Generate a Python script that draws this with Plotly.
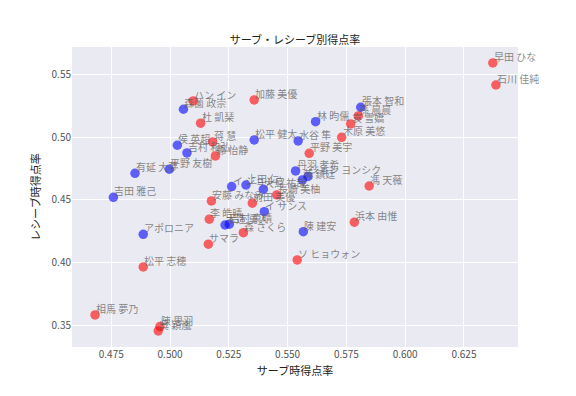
import plotly.graph_objects as go

# Men (blue)
men_names = ["張本 智和", "林 昀儒", "水谷 隼", "松平 健太", "森薗 政崇", "侯 英超", "吉村 和弘",
             "有延 大夢", "平野 友樹", "吉田 雅己", "アポロニア", "丹羽 孝希", "ジョン ヨンシク", "黄 鎮廷",
             "イ ジョンウ", "上田 仁", "大島 祐哉", "イ サンス", "木造 勇人", "吉村 真晴", "陳 建安"]
men_serve = [0.5811, 0.5619, 0.5545, 0.5358, 0.5057, 0.5031, 0.5072,
             0.4851, 0.4997, 0.4759, 0.4886, 0.5534, 0.5587, 0.5563,
             0.5262, 0.5323, 0.5397, 0.5401, 0.5234, 0.5252, 0.5567]
men_receive = [0.5237, 0.5122, 0.4969, 0.4977, 0.5221, 0.4935, 0.4874,
               0.4712, 0.4744, 0.4521, 0.4227, 0.4731, 0.4687, 0.4659,
               0.4606, 0.4619, 0.4585, 0.4407, 0.4301, 0.4307, 0.4248]

# Women (red)
women_names = ["早田 ひな", "石川 佳純", "孫 晨晨", "袁 雪嬌", "木原 美悠", "平野 美宇", "加藤 美優",
               "ハン イン", "杜 凱琹", "蒋 慧", "鄭 怡静", "馮 天薇", "浜本 由惟", "長崎 美柚",
               "前田 美優", "安藤 みなみ", "李 皓晴", "森 さくら", "サマラ", "ソ ヒョウォン",
               "松平 志穂", "相馬 夢乃", "陳 思羽", "呉 穎嵐"]
women_serve = [0.6373, 0.6386, 0.5801, 0.5768, 0.5730, 0.5592, 0.5358,
               0.5099, 0.5130, 0.5181, 0.5193, 0.5847, 0.5784, 0.5454,
               0.5350, 0.5176, 0.5167, 0.5312, 0.5163, 0.5541,
               0.4886, 0.4681, 0.4957, 0.4950]
women_receive = [0.5589, 0.5414, 0.5168, 0.5104, 0.4998, 0.4871, 0.5295,
                 0.5287, 0.5110, 0.4961, 0.4850, 0.4611, 0.4323, 0.4540,
                 0.4474, 0.4492, 0.4347, 0.4240, 0.4148, 0.4023,
                 0.3967, 0.3586, 0.3493, 0.3459]

FONT = "Noto Sans CJK JP"

fig = go.Figure()
fig.add_trace(go.Scatter(x=women_serve, y=women_receive, mode="markers",
                         marker=dict(color="rgba(255,0,0,0.6)", size=9.5, line=dict(width=0)),
                         showlegend=False, hoverinfo="skip"))
fig.add_trace(go.Scatter(x=men_serve, y=men_receive, mode="markers",
                         marker=dict(color="rgba(0,0,255,0.6)", size=9.5, line=dict(width=0)),
                         showlegend=False, hoverinfo="skip"))

annotations = []
for names, xs, ys in [(women_names, women_serve, women_receive), (men_names, men_serve, men_receive)]:
    for n, x, y in zip(names, xs, ys):
        annotations.append(dict(x=x, y=y, xref="x", yref="y", text=n, showarrow=False,
                                xanchor="left", yanchor="bottom", xshift=-1, yshift=-3,
                                font=dict(family=FONT, size=10, color="rgba(85,85,85,0.7)")))
fig.update_layout(annotations=annotations)

fig.update_layout(
    width=576, height=396,
    margin=dict(l=72, r=58, t=47, b=49),
    paper_bgcolor="white", plot_bgcolor="#EAEAF2",
    font=dict(family=FONT, size=10, color="#444444"),
    title=dict(text="サーブ・レシーブ別得点率", x=0.5, xref="paper", xanchor="center",
               y=1, yref="paper", yanchor="bottom", pad=dict(b=3),
               font=dict(family=FONT, size=11, color="#222222")),
    xaxis=dict(range=[0.4583, 0.648], tick0=0.475, dtick=0.025, tickformat=".3f",
               showgrid=True, gridcolor="white", gridwidth=1.2, zeroline=False,
               ticks="", showline=False, tickfont=dict(size=10, color="#555555"),
               title=dict(text="サーブ時得点率", font=dict(size=11, color="#222222"), standoff=7)),
    yaxis=dict(range=[0.3331, 0.5716], tick0=0.35, dtick=0.05, tickformat=".2f",
               showgrid=True, gridcolor="white", gridwidth=1.2, zeroline=False,
               ticks="", showline=False, tickfont=dict(size=10, color="#555555"),
               title=dict(text="レシーブ時得点率", font=dict(size=11, color="#222222"), standoff=8)),
)

fig.write_html("out.html")
